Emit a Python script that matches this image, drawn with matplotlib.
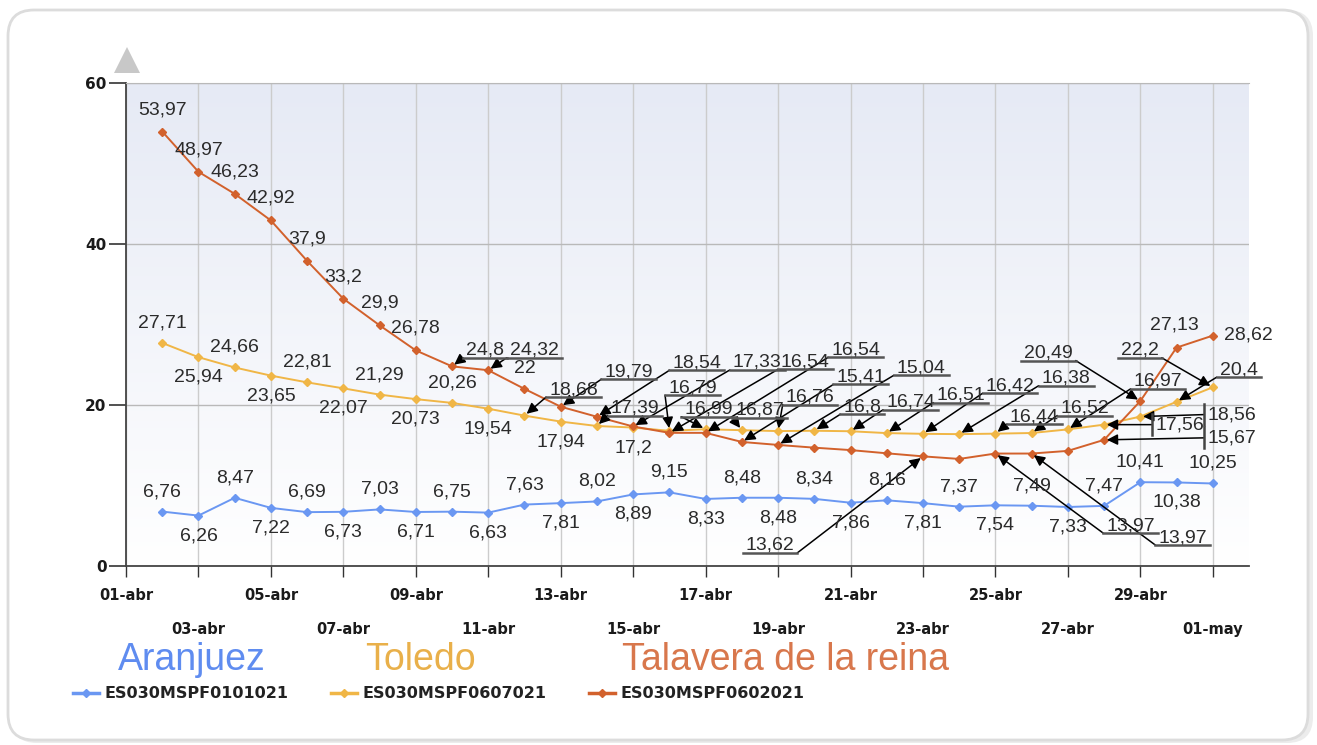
import matplotlib
matplotlib.use('Agg')
import matplotlib.pyplot as plt
import numpy as np
from matplotlib.patches import FancyBboxPatch, Polygon
from matplotlib.lines import Line2D
from matplotlib.transforms import IdentityTransform
from matplotlib.colors import LinearSegmentedColormap

# dias: 02-abr = 2 ... 01-may = 31
days = list(range(2, 32))
tick_days = list(range(1, 32, 2))
tick_labels = ['01-abr', '03-abr', '05-abr', '07-abr', '09-abr', '11-abr', '13-abr', '15-abr',
               '17-abr', '19-abr', '21-abr', '23-abr', '25-abr', '27-abr', '29-abr', '01-may']

aranjuez = [6.76, 6.26, 8.47, 7.22, 6.69, 6.73, 7.03, 6.71, 6.75, 6.63, 7.63, 7.81, 8.02, 8.89, 9.15,
            8.33, 8.48, 8.48, 8.34, 7.86, 8.16, 7.81, 7.37, 7.54, 7.49, 7.33, 7.47, 10.41, 10.38, 10.25]
toledo = [27.71, 25.94, 24.66, 23.65, 22.81, 22.07, 21.29, 20.73, 20.26, 19.54, 18.68, 17.94, 17.39, 17.2,
          16.79, 16.99, 16.87, 16.76, 16.8, 16.74, 16.51, 16.42, 16.38, 16.44, 16.52, 16.97, 17.56, 18.56,
          20.4, 22.2]
talavera = [53.97, 48.97, 46.23, 42.92, 37.9, 33.2, 29.9, 26.78, 24.8, 24.32, 22, 19.79, 18.54, 17.33,
            16.54, 16.54, 15.41, 15.04, 14.7, 14.4, 14.0, 13.62, 13.3, 13.97, 13.97, 14.3, 15.67, 20.49,
            27.13, 28.62]

names = ['Aranjuez', 'Toledo', 'Talavera de la reina']
codes = ['ES030MSPF0101021', 'ES030MSPF0607021', 'ES030MSPF0602021']
colors = ['#6a97f2', '#f0b646', '#d2612c']
name_colors = ['#5f8cf0', '#e9b04a', '#d8774c']

# colocacion de etiquetas (desplazamiento en pixeles, 'n' normal, 'a' con flecha)
UP, DN = (0, 20, 'n'), (0, -20, 'n')
blue_layout = {d: (UP if (d % 2 == 0) else DN) for d in days}
blue_layout[29] = UP
blue_layout[30] = DN
blue_layout[31] = UP

orange_layout = {d: (UP if (d % 2 == 0) else DN) for d in range(2, 12)}
orange_layout.update({13: DN, 15: DN,
                      12: (49, 26, 'a'), 14: (38, 18, 'a'), 16: (23, 43, 'a'), 17: (3, 20, 'a'),
                      18: (18, 20, 'a'), 19: (32, 34, 'a'), 20: (48, 24, 'a'), 21: (60, 29, 'a'),
                      22: (74, 38, 'a'), 23: (87, 48, 'a'), 24: (107, 56, 'a'), 25: (39, 17, 'a'),
                      26: (53, 25, 'a'), 27: (90, 48, 'a'), 28: (76, 0, 'a'), 29: (92, 2, 'a'),
                      30: (62, 32, 'a'), 31: (-73, 37, 'a')})

red_layout = {d: (0, 22, 'n') for d in range(2, 10)}
red_layout.update({12: (0, 20, 'n'), 30: (-2, 23, 'n'), 31: (36, 1, 'n'),
                   10: (33, 16, 'a'), 11: (46, 20, 'a'), 13: (68, 35, 'a'), 14: (100, 54, 'a'),
                   15: (124, 64, 'a'), 16: (136, 71, 'a'), 17: (150, 83, 'a'), 18: (119, 65, 'a'),
                   19: (143, 77, 'a'), 23: (-153, -89, 'a'), 25: (135, -72, 'a'), 26: (151, -84, 'a'),
                   28: (128, 2, 'a'), 29: (-92, 48, 'a')})

W, H = 1317, 745
fig = plt.figure(figsize=(W / 100, H / 100), dpi=100)
ident = IdentityTransform()

# marco redondeado
fig.add_artist(FancyBboxPatch((11, 2), 1302, 733, boxstyle='round,pad=0,rounding_size=26',
                              transform=ident, facecolor='#ececec', edgecolor='none', zorder=0))
fig.add_artist(FancyBboxPatch((8, 5), 1300, 730, boxstyle='round,pad=0,rounding_size=26',
                              transform=ident, facecolor='white', edgecolor='#dcdcdc', lw=2, zorder=0))

ax = fig.add_axes([126 / W, 179 / H, 1123 / W, 483 / H])
ax.set_zorder(1)
grad = LinearSegmentedColormap.from_list('g', ['#ffffff', '#e6eaf5'])
ax.imshow(np.linspace(0, 1, 256).reshape(-1, 1), cmap=grad, origin='lower', extent=[0, 1, 0, 1],
          transform=ax.transAxes, aspect='auto', zorder=0)

series = [aranjuez, toledo, talavera]
layouts = [blue_layout, orange_layout, red_layout]
for vals, c in zip(series, colors):
    ax.plot(days, vals, color=c, lw=1.4, marker='D', ms=4, mec=c, mfc=c, zorder=3)

ax.set_xlim(1, 32)
ax.set_ylim(0, 60)
ax.set_yticks([0, 20, 40, 60])
ax.set_xticks(tick_days[0::2])
ax.set_xticklabels(tick_labels[0::2])
ax.set_xticks(tick_days[1::2], minor=True)
ax.set_xticklabels(tick_labels[1::2], minor=True)
ax.grid(True, axis='x', which='both', color='#cccccc', lw=1, zorder=1)
ax.grid(True, axis='y', which='major', color='#b9b9b9', lw=1, zorder=1)
ax.set_axisbelow(True)
ax.tick_params(axis='x', which='major', length=8, width=1, color='#333333', pad=8,
               labelsize=10.5, labelcolor='#1a1a1a')
ax.tick_params(axis='x', which='minor', length=8, width=1, color='#333333', pad=32,
               labelsize=10.5, labelcolor='#1a1a1a')
ax.tick_params(axis='y', length=12, width=1.2, color='#333333', pad=2, labelsize=11,
               labelcolor='#1a1a1a')
for lab in ax.get_xticklabels(which='both') + ax.get_yticklabels():
    lab.set_fontweight('bold')
for s in ['left', 'bottom']:
    ax.spines[s].set_color('#444444')
    ax.spines[s].set_linewidth(1.3)
ax.spines['top'].set_color('#b9b9b9')
ax.spines['right'].set_visible(False)

# flecha del eje y
fig.add_artist(Polygon([[127, 698], [114, 672], [140, 672]], closed=True, transform=ident,
                       facecolor='#c8c8c8', edgecolor='none'))

# etiquetas de valores
arrow_items = []
for vals, lay in zip(series, layouts):
    for d, v in zip(days, vals):
        spec = lay.get(d)
        if spec is None:
            continue
        dx, dy, kind = spec
        t = ax.annotate(f'{v:g}'.replace('.', ','), xy=(d, v), xytext=(dx, dy),
                        textcoords='offset pixels', ha='center', va='center', fontsize=14,
                        family=['Liberation Sans', 'DejaVu Sans'], color='#2b2b2b', zorder=6,
                        annotation_clip=False)
        if kind == 'a':
            arrow_items.append((t, d, v, dy))

fig.canvas.draw()
renderer = fig.canvas.get_renderer()
for t, d, v, dy in arrow_items:
    bb = t.get_window_extent(renderer)
    px, py = ax.transData.transform((d, v))
    if abs(dy) < 6:
        sx = bb.x0 - 4
        sy = (bb.y0 + bb.y1) / 2
        fig.add_artist(Line2D([sx, sx], [bb.y0 - 2, bb.y1 + 2], transform=ident,
                              color='#444444', lw=1.8, zorder=5))
    else:
        uy = bb.y0 + 1
        fig.add_artist(Line2D([bb.x0 - 3, bb.x1 + 3], [uy, uy], transform=ident,
                              color='#555555', lw=1.8, zorder=5))
        sx = bb.x0 - 3 if px < (bb.x0 + bb.x1) / 2 else bb.x1 + 3
        sy = uy
    ax.annotate('', xy=(d, v), xytext=(sx, sy), textcoords='figure pixels', zorder=5,
                annotation_clip=False,
                arrowprops=dict(arrowstyle='-|>', color='black', lw=1.1, mutation_scale=16,
                                shrinkA=0, shrinkB=2))

# leyenda
for name, nc, x in zip(names, name_colors, [118, 365, 622]):
    fig.text(x / W, 85 / H, name, color=nc, fontsize=27, va='center', ha='left',
             family=['Liberation Sans', 'DejaVu Sans'])
for code, c, x in zip(codes, colors, [73, 331, 589]):
    fig.add_artist(Line2D([x, x + 26], [52, 52], transform=ident, color=c, lw=2.5))
    fig.add_artist(Line2D([x + 13], [52], transform=ident, color=c, marker='D', ms=4))
    fig.text((x + 31) / W, 52 / H, code, fontsize=11.5, fontweight='bold', color='#222222',
             va='center', ha='left')

fig.savefig('out.png', dpi=100)
